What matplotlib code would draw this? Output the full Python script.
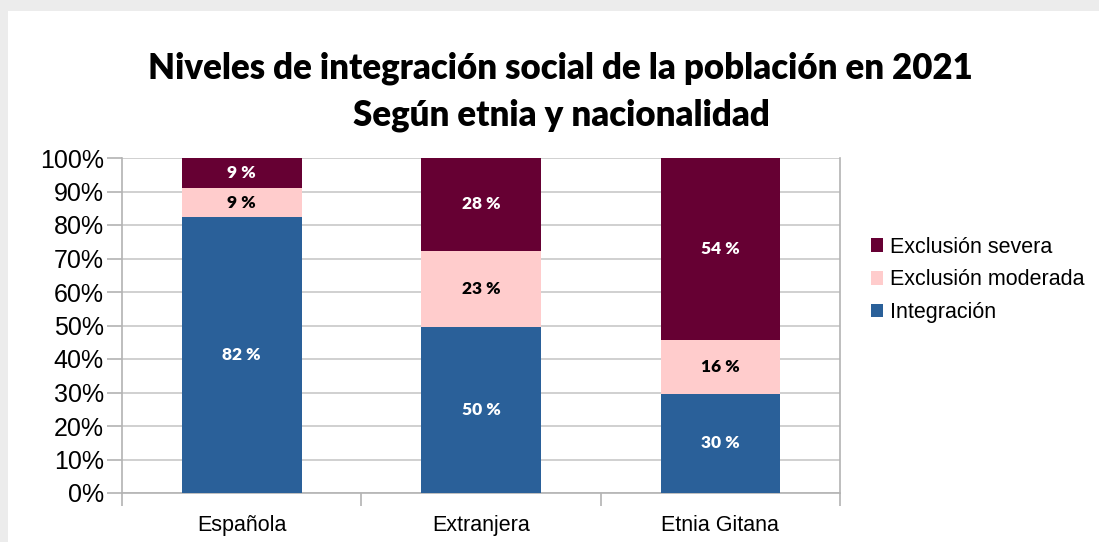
import matplotlib
matplotlib.use("Agg")
import matplotlib.pyplot as plt
from matplotlib.patches import Rectangle
import numpy as np

# data
CATEGORIES = ["Española", "Extranjera", "Etnia Gitana"]
INTEGRACION = [82.3, 49.6, 29.6]
EXC_MODERADA = [8.7, 22.7, 16.0]
EXC_SEVERA = [9.0, 27.7, 54.4]
YTICKS = [0, 10, 20, 30, 40, 50, 60, 70, 80, 90, 100]

SERIES = [
    ("Integración", INTEGRACION, "#2a6099", "white"),
    ("Exclusión moderada", EXC_MODERADA, "#ffcccc", "black"),
    ("Exclusión severa", EXC_SEVERA, "#660033", "white"),
]
TITLE_FONT = ["Lato", "DejaVu Sans"]
BODY_FONT = ["Liberation Sans", "DejaVu Sans"]

W, H = 1099, 542
fig = plt.figure(figsize=(W / 100, H / 100), dpi=100)
fig.patch.set_facecolor("#ececec")
# white panel behind everything
fig.patches.append(Rectangle((8 / W, 0), 1, 1 - 11 / H, transform=fig.transFigure,
                             facecolor="white", edgecolor="none", zorder=-10))

ax = fig.add_axes([122 / W, (H - 493) / H, 718 / W, 335 / H])
ax.set_facecolor("white")

x = np.arange(len(CATEGORIES))
bottom = np.zeros(len(CATEGORIES))
handles = []
for name, vals, color, txtcolor in SERIES:
    vals = np.array(vals)
    bars = ax.bar(x, vals, width=0.5, bottom=bottom, color=color, label=name, zorder=3)
    for xi, b, v in zip(x, bottom, vals):
        ax.text(xi, b + v / 2, f"{round(v):d} %", ha="center", va="center",
                color=txtcolor, fontsize=12.5, fontweight="heavy", family=TITLE_FONT, zorder=4)
    bottom += vals
    handles.append(bars)

ax.set_xlim(-0.5, 2.5)
ax.set_ylim(0, 100)
ax.set_yticks(YTICKS)
ax.set_yticklabels([f"{t}%" for t in YTICKS], family=BODY_FONT, fontsize=18)
ax.set_xticks(x)
ax.set_xticklabels(CATEGORIES, family=BODY_FONT, fontsize=15.5)
ax.set_xticks(np.arange(-0.5, 3, 1), minor=True)
ax.tick_params(axis="x", which="major", length=0, pad=16)
ax.tick_params(axis="x", which="minor", length=9, color="#b3b3b3", width=1.2)
ax.tick_params(axis="y", length=11, color="#b3b3b3", width=1.2, pad=2)
ax.grid(axis="y", color="#c8c8c8", linewidth=1.2, zorder=0)
for s in ["left", "bottom", "right"]:
    ax.spines[s].set_color("#b3b3b3")
    ax.spines[s].set_linewidth(1.2)
ax.spines["top"].set_visible(False)

# legend (reversed order like the reference)
leg = fig.legend(handles[::-1], [s[0] for s in SERIES][::-1], loc="center left",
                 bbox_to_anchor=(871 / W, 1 - 280 / H), frameon=False,
                 prop={"family": BODY_FONT, "size": 15.5}, handlelength=0.58,
                 handleheight=0.58, handletextpad=0.3, labelspacing=0.55,
                 borderpad=0, borderaxespad=0)

fig.text(560 / W, 1 - 68 / H, "Niveles de integración social de la población en 2021",
         ha="center", va="center", fontsize=25, fontweight="heavy", family=TITLE_FONT)
fig.text(561 / W, 1 - 115 / H, "Según etnia y nacionalidad",
         ha="center", va="center", fontsize=25, fontweight="heavy", family=TITLE_FONT)

fig.savefig("out.png", dpi=100, facecolor=fig.get_facecolor())
